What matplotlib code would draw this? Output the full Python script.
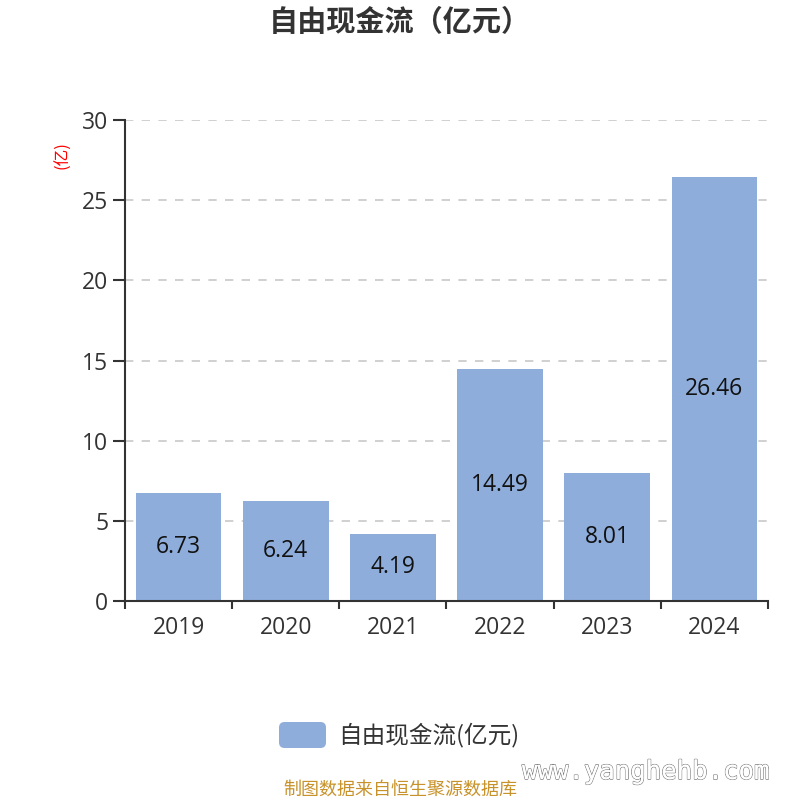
import matplotlib
matplotlib.use("Agg")
import matplotlib.pyplot as plt
import matplotlib.patheffects as pe
from matplotlib.patches import FancyBboxPatch

plt.rcParams['font.family'] = ['Open Sans', 'Noto Sans CJK SC', 'DejaVu Sans']

years = ["2019", "2020", "2021", "2022", "2023", "2024"]
values = [6.73, 6.24, 4.19, 14.49, 8.01, 26.46]
yticks = [0, 5, 10, 15, 20, 25, 30]
series_name = "自由现金流(亿元)"
title = "自由现金流（亿元）"
unit = "(亿)"
source = "制图数据来自恒生聚源数据库"
watermark = "www.yanghehb.com"

bar_color = "#8EADDB"
text_color = "#333333"
cjk = ['Noto Sans CJK SC', 'DejaVu Sans']

fig = plt.figure(figsize=(8, 8), dpi=100)
ax = fig.add_axes([0.15625, 0.24875, 0.80375, 0.60125])

x = list(range(len(years)))
ax.bar(x, values, width=0.8, color=bar_color, zorder=2)
for xi, v in zip(x, values):
    ax.text(xi, v / 2, f"{v:.2f}", ha="center", va="center", fontsize=16.5, color="#111111", zorder=3)

ax.set_xlim(-0.5, len(years) - 0.5)
ax.set_ylim(0, 30)
ax.set_yticks(yticks)
ax.set_yticklabels([str(t) for t in yticks], fontsize=16.5, color=text_color)
ax.set_xticks(x)
ax.set_xticklabels(years, fontsize=16.5, color=text_color)
ax.tick_params(axis="x", length=0, pad=11)
ax.set_xticks([i - 0.5 for i in range(len(years) + 1)], minor=True)
ax.tick_params(axis="x", which="minor", length=6, width=1.5, color=text_color, direction="out")
ax.tick_params(axis="y", length=9, width=1.5, color=text_color, direction="out", pad=3)

for t in yticks[1:]:
    ax.axhline(t, color="#c8c8c8", linestyle=(0, (5, 5)), linewidth=1.2, zorder=1)

for s in ["top", "right"]:
    ax.spines[s].set_visible(False)
ax.spines["left"].set_color(text_color)
ax.spines["left"].set_linewidth(1.5)
ax.spines["bottom"].set_color(text_color)
ax.spines["bottom"].set_linewidth(1.5)

fig.text(0.5, 1 - 22 / 800, title, ha="center", va="center", fontsize=21, fontweight="bold",
         color=text_color, family=cjk)
fig.text(63 / 800, 1 - 155 / 800, unit, ha="center", va="center", fontsize=12, color="red",
         rotation=90, family=cjk)

# legend
leg = FancyBboxPatch((279 / 800, 1 - 748 / 800), 47 / 800, 26 / 800,
                     boxstyle="round,pad=0,rounding_size=0.007",
                     transform=fig.transFigure, facecolor=bar_color, edgecolor="none")
fig.patches.append(leg)
fig.text(338 / 800, 1 - 735 / 800, series_name, ha="left", va="center", fontsize=17,
         color=text_color, family=cjk)

fig.text(400 / 800, 1 - 790 / 800, source, ha="center", va="center", fontsize=13,
         color="#C8922A", family=cjk)
fig.text(646 / 800, 1 - 772 / 800, watermark, ha="center", va="center", fontsize=18.5, color="white",
         path_effects=[pe.withStroke(linewidth=1.0, foreground="#777777"), pe.Normal()],
         family="DejaVu Sans Mono")

fig.savefig("out.png", dpi=100, facecolor="white")
